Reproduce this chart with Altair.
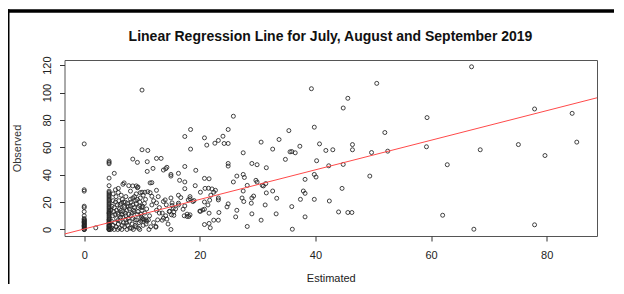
import altair as alt
import pandas as pd

title_text = "Linear Regression Line for July, August and September 2019"
x_title = "Estimated"
y_title = "Observed"
x_ticks = [0, 20, 40, 60, 80]
y_ticks = [0, 20, 40, 60, 80, 100, 120]
x_domain = [-3.41, 88.7]
y_domain = [-4.76, 123.76]
fit_intercept = 0.37
fit_slope = 1.08

# column of estimates at 0
est_zero = [0, 0, 0, 0, 0, 0, 0, 0, 0, 0, 0, 0, 0, 0, 0, 0, 0, 0, 0, 0, 0, 0, 0, 0, 0, 2.0]
obs_zero = [0, 0, 0, 1, 1, 2, 2, 3, 3, 4, 4, 5, 5, 6, 6, 7, 7, 8, 10, 13, 16, 17, 28, 29, 62.5, 1.2]

# column of estimates at about 4.3
est_col = [4.3] * 42
obs_col = [0, 0, 0, 1, 1, 2, 2, 3, 3, 4, 5, 5, 6, 7, 7, 8, 9, 10, 11, 12, 12, 13, 14, 15,
           16, 17, 18, 19, 20, 21, 22, 23, 24, 25, 26, 27, 28, 32, 37.5, 48, 49, 50]

# dense cloud just right of the column
est_cloud = [4.6, 4.8, 5.0, 5.2, 5.3, 5.5, 5.6, 5.8, 5.9, 6.0, 6.1, 6.2, 6.4, 6.5, 6.6, 6.7, 6.9, 7.0,
             7.1, 7.3, 7.4, 7.5, 7.6, 7.8, 7.9, 8.0, 8.1, 8.3, 8.4, 8.5, 8.6, 8.8, 8.9, 9.0, 9.2, 9.3,
             9.5, 9.6, 9.7, 9.9, 10.0, 10.2, 10.4, 10.5,
             4.7, 4.9, 5.1, 5.2, 5.4, 5.5, 5.7, 5.8, 6.0, 6.1, 6.3, 6.4, 6.6, 6.7, 6.8, 7.0, 7.1, 7.2,
             7.4, 7.5, 7.7, 7.8, 8.0, 8.1, 8.2, 8.4, 8.5, 8.7, 8.8, 9.0, 9.1, 9.3, 9.4, 9.6, 9.8, 10.1, 10.3,
             4.6, 4.8, 5.0, 5.3, 5.6, 5.9, 6.2, 6.5, 6.8, 7.2, 7.6, 8.3, 8.7, 9.2, 9.8,
             5.0, 5.2, 5.4, 5.9, 5.9, 6.4, 6.7, 6.9, 7.7, 7.2, 8.4, 9.3, 8.0, 9.0, 10.2, 10.6, 10.8, 10.7,
             11.3, 11.5, 12.0, 12.0, 13.0, 12.8, 13.5, 14.2, 14.5, 8.4, 9.0, 9.7, 10.5, 11.4]
obs_cloud = [0, 1, 3, 0, 5, 2, 8, 0, 4, 11, 1, 6, 14, 0, 3, 9, 17, 2,
             12, 5, 0, 19, 8, 15, 1, 22, 10, 4, 18, 0, 13, 7, 21, 2, 11, 16,
             5, 0, 23, 9, 14, 3, 19, 12,
             6, 10, 13, 16, 20, 24, 18, 12, 21, 15, 9, 19, 22, 13, 5, 16, 20, 10,
             14, 3, 11, 6, 17, 20, 1, 8, 14, 24, 3, 19, 7, 13, 1, 20, 6, 17, 7,
             14, 17, 21, 11, 14, 7, 18, 11, 20, 7, 17, 12, 16, 22, 11,
             26, 41, 29, 30, 27, 25, 33, 34, 32, 24, 23, 31, 28, 26, 25, 22, 15, 4,
             10, 2, 5, 21, 16, 24, 12, 18, 4, 31.8, 31.8, 26.9, 27.2, 26.9]

# middle range of estimates
est_mid = [10.0, 18.4, 17.4, 20.8, 24.0, 23.2, 22.6, 24.2, 24.9, 21.2, 30.6, 27.5, 18.4, 10.0, 11.0,
           25.8, 24.9, 24.9, 24.9, 29.0, 29.9, 31.5, 27.5, 26.4, 27.7, 25.8, 29.7, 29.9, 28.2, 31.0,
           31.4, 27.5, 29.0, 27.3, 29.3, 24.9, 24.7, 26.4, 26.2, 29.0, 28.2, 23.3, 23.2, 22.4, 21.8,
           23.2, 23.2, 22.4, 22.1, 22.7, 20.9, 21.5, 21.9, 21.4, 20.8, 20.8, 20.1, 20.8, 21.6, 19.3,
           19.2, 20.1, 19.0, 18.3, 18.3, 18.3, 17.8, 17.3, 17.4, 17.4, 17.4, 16.5, 16.3, 15.0, 15.0,
           16.3, 16.7, 16.3, 17.4, 15.0, 15.2, 15.2, 15.5, 15.5, 15.8, 15.0, 14.8, 14.1, 13.7, 14.1,
           13.5, 12.5, 13.3, 11.9, 10.9, 11.7, 11.4, 10.9, 9.2, 8.4, 9.2, 10.0, 11.0, 11.7, 12.5,
           11.7, 12.5, 12.4, 12.4, 12.5, 13.0, 12.7, 11.2, 11.1, 10.8, 10.2, 9.6, 10.0, 20.0, 20.5,
           21.6, 20.8, 21.6, 21.7, 27.6, 28.9, 14.0, 16.3, 18.0, 18.8, 14.7, 13.7, 14.3, 10.0, 10.7,
           17.8, 18.1, 17.1, 15.4, 13.7, 14.3, 15.1]
obs_mid = [101.8, 73.0, 67.9, 66.9, 68.1, 65.0, 63.0, 62.8, 62.8, 61.6, 63.8, 56.0, 58.7, 58.2, 57.7,
           82.7, 73.0, 48.2, 46.3, 48.2, 47.3, 45.1, 40.2, 39.0, 38.0, 34.7, 35.9, 34.6, 32.2, 31.8,
           33.5, 28.1, 23.0, 23.0, 24.4, 18.7, 16.5, 14.0, 9.2, 11.4, 2.2, 12.4, 6.8, 6.8, 1.2,
           21.6, 23.0, 27.2, 29.6, 28.6, 30.0, 30.1, 25.0, 17.9, 20.1, 14.8, 13.3, 37.3, 37.0, 43.2,
           32.0, 27.2, 21.1, 22.5, 24.0, 10.7, 9.5, 10.0, 29.8, 34.7, 46.0, 35.9, 41.0, 40.2, 39.0,
           25.0, 23.3, 17.9, 17.2, 23.0, 19.4, 17.5, 12.8, 10.3, 15.0, 0.0, 13.3, 10.0, 20.4, 44.4,
           6.8, 51.9, 51.9, 44.6, 42.4, 34.2, 34.0, 49.5, 49.0, 51.4, 30.5, 27.2, 27.6, 24.2, 28.6,
           17.9, 19.4, 1.7, 2.2, 14.0, 12.0, 7.0, 0.0, 7.0, 6.0, 8.0, 17.0, 16.0, 13.4, 14.3,
           11.9, 3.6, 4.4, 21.4, 20.4, 19.2, 21.6, 19.2, 21.6, 20.4, 13.1, 43.4, 45.4, 7.6, 7.1,
           11.2, 9.5, 14.8, 15.6, 8.3, 7.6, 10.7]

# larger estimates
est_far = [67.0, 50.6, 39.3, 45.6, 44.8, 59.3, 77.9, 84.4, 85.2, 39.8, 35.4, 52.0, 33.7, 40.7,
           46.4, 46.4, 41.8, 43.0, 32.6, 37.3, 35.6, 35.9, 36.5, 59.2, 49.7, 52.5, 68.5, 75.1, 79.7,
           62.8, 40.2, 34.8, 42.3, 44.8, 49.4, 39.8, 40.1, 38.2, 44.6, 37.9, 38.2, 37.4, 39.8, 42.4,
           44.0, 45.6, 46.3, 38.2, 35.9, 36.0, 62.0, 67.4, 77.9, 33.2, 30.6, 31.3, 33.3, 32.6, 31.5,
           30.8]
obs_far = [118.8, 106.7, 102.8, 95.8, 88.7, 81.7, 88.0, 84.8, 63.8, 74.7, 72.2, 70.8, 65.7, 62.5,
           62.0, 58.2, 57.7, 58.2, 58.7, 60.8, 56.7, 56.9, 56.0, 60.4, 56.2, 57.2, 58.2, 62.0, 54.0,
           47.3, 50.2, 51.2, 46.5, 47.5, 39.0, 40.2, 38.3, 36.6, 30.0, 28.1, 26.4, 22.0, 22.0, 20.8,
           12.8, 12.4, 12.4, 9.2, 16.7, 0.2, 10.4, 0.2, 3.4, 11.4, 6.8, 17.9, 22.8, 28.1, 26.7,
           32.2]

est_all = est_zero + est_col + est_cloud + est_mid + est_far
obs_all = obs_zero + obs_col + obs_cloud + obs_mid + obs_far
df = pd.DataFrame({"Estimated": est_all, "Observed": obs_all})

line_df = pd.DataFrame({
    "Estimated": x_domain,
    "Observed": [fit_intercept + fit_slope * v for v in x_domain],
})

FONT = "Liberation Sans"
W, H = 532.5, 176

x_enc = alt.X(
    "Estimated:Q",
    scale=alt.Scale(domain=x_domain, nice=False, zero=False),
    axis=alt.Axis(
        values=x_ticks, title=x_title, grid=False, domain=False, labelOverlap=False,
        tickSize=5, tickColor="#333", labelPadding=8,
        labelFont=FONT, labelFontSize=11, labelColor="#222",
        titleFont=FONT, titleFontSize=11, titleFontWeight="normal", titleColor="#222",
        titleY=45.5, titleBaseline="alphabetic",
    ),
)
y_enc = alt.Y(
    "Observed:Q",
    scale=alt.Scale(domain=y_domain, nice=False, zero=False),
    axis=alt.Axis(
        values=y_ticks, title=y_title, grid=False, domain=False, labelOverlap=False,
        labelSeparation=0, labelBound=False,
        tickSize=5, tickColor="#333", labelPadding=7,
        labelAngle=270, labelAlign="center", labelBaseline="bottom",
        labelFont=FONT, labelFontSize=11, labelColor="#222",
        titleFont=FONT, titleFontSize=11, titleFontWeight="normal", titleColor="#333",
        titleAngle=270, titleX=-47, titleY=88, titleAlign="center", titleBaseline="middle",
    ),
)

points = alt.Chart(df).mark_point(
    shape="circle", filled=False, size=16, strokeWidth=0.85, color="#222", opacity=1
).encode(x=x_enc, y=y_enc)

fit = alt.Chart(line_df).mark_line(color="#ff4a4a", strokeWidth=1, clip=True).encode(
    x=x_enc, y=y_enc
)

title = alt.Chart(pd.DataFrame({"t": [title_text]})).mark_text(
    font=FONT, fontSize=14, fontWeight="bold", align="center", baseline="alphabetic", color="#111"
).encode(text="t:N", x=alt.value(266), y=alt.value(-18.7))

frame_top = alt.Chart(pd.DataFrame({"a": [0]})).mark_rect(color="black").encode(
    x=alt.value(-56.5), x2=alt.value(550.5), y=alt.value(-50.7), y2=alt.value(-47.3)
)
frame_left = alt.Chart(pd.DataFrame({"a": [0]})).mark_rect(color="black").encode(
    x=alt.value(-56.5), x2=alt.value(-55), y=alt.value(-50.7), y2=alt.value(226)
)

chart = alt.layer(points, fit, title, frame_top, frame_left).properties(
    width=W, height=H,
    autosize=alt.AutoSizeParams(type="none"),
    padding={"left": 56.5, "top": 52, "right": 17, "bottom": 48},
    background="white",
).configure_view(stroke="#555", strokeWidth=1).configure_axis(labelOverlap=False)

chart.save("out.html", embed_options={"renderer": "svg", "actions": False})
